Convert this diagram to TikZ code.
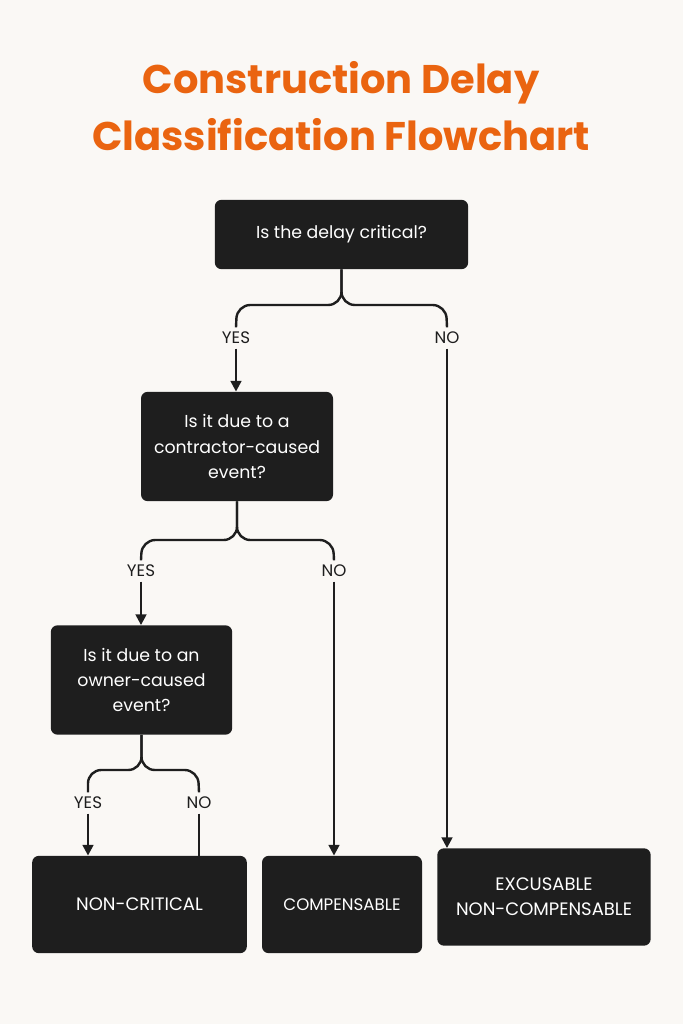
\documentclass[tikz,border=0pt]{standalone}
\usepackage{fontspec}
\setmainfont{Poppins}
\usetikzlibrary{arrows.meta}
\definecolor{bg}{HTML}{FAF8F5}
\definecolor{org}{HTML}{EA6410}
\definecolor{dk}{HTML}{1E1E1E}
\begin{document}
\begin{tikzpicture}[x=0.75pt,y=-0.75pt,
 box/.style={fill=dk,rounded corners=5pt,text=white,align=center,font=\fontsize{13}{19}\selectfont,inner sep=0pt},
 lab/.style={font=\fontsize{12.5}{14}\selectfont,text=dk},
 ln/.style={draw=dk,line width=1.8pt,rounded corners=10pt},
 ar/.style={draw=dk,line width=1.8pt,-{Triangle[length=8pt,width=8pt]}}]
\fill[bg] (0,0) rectangle (683,1024);
\useasboundingbox (0,0) rectangle (683,1024);
\node[text=org,font=\bfseries\fontsize{30}{43}\selectfont,align=center] (title) at (341,106) {Construction Delay\\Classification Flowchart};
\node[box,minimum width=190pt,minimum height=52pt] (b1) at (341.5,234.5) {Is the delay critical?};
\node[box,minimum width=144pt,minimum height=82pt] (b2) at (237,446.5) {Is it due to a\\contractor-caused\\event?};
\node[box,minimum width=136pt,minimum height=82pt] (b3) at (141.5,680) {Is it due to an\\owner-caused\\event?};
\node[box,minimum width=161pt,minimum height=73pt,font=\fontsize{13.5}{19}\selectfont] (c1) at (139.5,904.5) {NON-CRITICAL};
\node[box,minimum width=120pt,minimum height=73pt,font=\fontsize{12.5}{19}\selectfont] (c2) at (342,904.5) {COMPENSABLE};
\node[box,minimum width=160pt,minimum height=73pt,font=\fontsize{13.5}{19}\selectfont] (c3) at (544,897) {EXCUSABLE\\NON-COMPENSABLE};
\node[lab] (y1) at (236,338) {YES};
\node[lab] (n1) at (447,338) {NO};
\node[lab] (y2) at (141,571) {YES};
\node[lab] (n2) at (334,571) {NO};
\node[lab] (y3) at (88,803) {YES};
\node[lab] (n3) at (199,803) {NO};
\coordinate (j1l) at (237,305); \coordinate (j1r) at (446,305);
\coordinate (j2l) at (142,540); \coordinate (j2r) at (333,540);
\coordinate (j3l) at (88,770); \coordinate (j3r) at (198,770);
\draw[ln] (b1.south) |- (j1l) -- (y1.north);
\draw[ln] (b1.south) |- (j1r) -- (n1.north);
\draw[ln] (b2.south) |- (j2l) -- (y2.north);
\draw[ln] (b2.south) |- (j2r) -- (n2.north);
\draw[ln] (b3.south) |- (j3l) -- (y3.north);
\draw[ln] (b3.south) |- (j3r) -- (n3.north);
\draw[ar] (y1.south) -- (b2.north -| y1);
\draw[ar] (y2.south) -- (b3.north -| y2);
\draw[ar] (y3.south) -- (c1.north -| y3);
\draw[ar] (n1.south) -- (n1.south |- c3.north);
\draw[ar] (n2.south) -- (n2.south |- c2.north);
\draw[dk,line width=1.8pt] (n3.south) -- (n3.south |- c1.north);
\end{tikzpicture}
\end{document}
